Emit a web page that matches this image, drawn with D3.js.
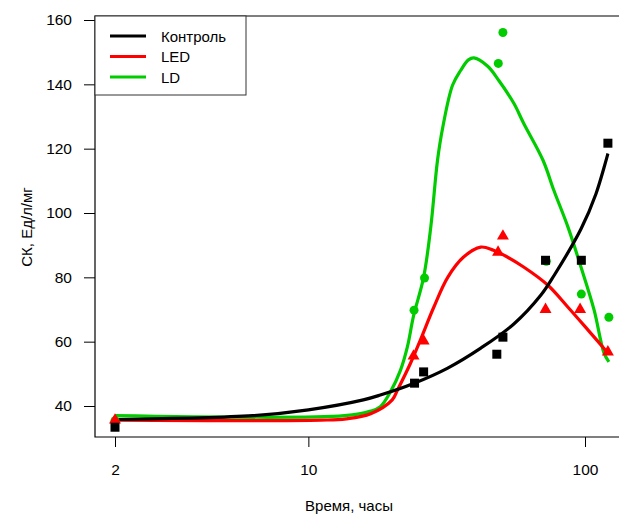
<!DOCTYPE html>
<html><head><meta charset="utf-8">
<script src="https://cdn.jsdelivr.net/npm/d3@7"></script>
<style>body{margin:0;background:#fff}svg{display:block}text{font-family:"Liberation Sans",Arial,sans-serif}</style>
</head><body>
<svg id="c" width="619" height="515"></svg>
<script>
// ---- data ----
const seriesNames = ["Контроль", "LED", "LD"];
const seriesColors = ["#000000", "#ff0000", "#00cc00"];
const xTicks = [2, 10, 100];
const yTicks = [40, 60, 80, 100, 120, 140, 160];

// observed points
const ctrlT = [2, 24.2, 26.1, 48, 50.5, 72, 97, 121];
const ctrlV = [33.4, 47.1, 50.6, 56.1, 61.4, 85.3, 85.3, 121.7];
const ledT  = [2, 24.0, 26.1, 48.5, 50.5, 72, 96, 121];
const ledV  = [35.6, 55.5, 60.2, 87.8, 92.8, 70, 70, 56.8];
const ldT   = [2, 24.1, 26.3, 48.6, 50.5, 72.5, 97, 122];
const ldV   = [35.4, 69.8, 79.8, 146.5, 156.1, 85, 74.8, 67.6];

// fitted curves
const ctrlFitT = [2, 6.3, 10, 15.8, 18.2, 24, 31.9, 42, 55.3, 69.3, 77.2, 96.7, 109.6, 121];
const ctrlFitV = [35.8, 37, 38.8, 41.9, 43.4, 47, 51.8, 58, 65.5, 74.5, 80.5, 95, 106, 118.5];
const ledFitT = [2, 11.1, 13.7, 16.8, 20.1, 21.0, 23.4, 25.4, 28.4, 31.9, 36.4, 42, 46.7, 50.9, 60, 73.3, 86.8, 102.6, 121];
const ledFitV = [35.6, 35.6, 36.0, 37.6, 41.9, 45, 53.3, 60.5, 70.7, 80, 86.3, 89.4, 88.4, 86.9, 83.2, 77.6, 70.7, 63.6, 56.5];
const ldFitT = [2, 13.5, 16.8, 18.2, 19.8, 21.5, 22.8, 24.0, 26.1, 27.7, 29.3, 30.6, 33.2, 35.5, 37.9, 39.7, 44.5, 48.8, 55.3, 60, 70.5, 77.2, 86.8, 96.7, 107.9, 117.1, 122];
const ldFitV = [37, 37, 38.4, 39.8, 44.4, 51, 58.4, 68, 80, 95.6, 116.4, 126.6, 139.7, 144.3, 147.6, 148.2, 145.6, 141.2, 134.1, 127.9, 116.4, 107, 95.6, 83.2, 69.8, 56.5, 53.7];

// ---- layout ----
const svg = d3.select("#c");
const L = 95, T = 16, R = 619, B = 437;
const x = d3.scaleLog().domain([2, 100]).range([115, 585]);
const y = d3.scaleLinear().domain([40, 160]).range([406, 20]);

// frame
svg.append("path").attr("d", `M${R},${T}H${L}V${B}H${R}`).attr("fill", "none").attr("stroke", "#000").attr("stroke-width", 1.2);

// axes
const ya = svg.append("g").attr("transform", `translate(${L},0)`)
  .call(d3.axisLeft(y).tickValues(yTicks).tickSize(11).tickPadding(12).tickFormat(d3.format("d")));
ya.select(".domain").remove();
ya.selectAll("text").attr("font-size", 15.5).attr("fill", "#000").attr("font-family", "Liberation Sans, Arial");
ya.selectAll("line").attr("stroke", "#000");

const xa = svg.append("g").attr("transform", `translate(0,${B})`)
  .call(d3.axisBottom(x).tickValues(xTicks).tickSize(10).tickPadding(17).tickFormat(d3.format("d")));
xa.select(".domain").remove();
xa.selectAll("text").attr("font-size", 15.5).attr("fill", "#000").attr("font-family", "Liberation Sans, Arial");
xa.selectAll("line").attr("stroke", "#000");

// axis titles
svg.append("text").attr("x", 349).attr("y", 511).attr("text-anchor", "middle").attr("font-size", 15).text("Время, часы");
svg.append("text").attr("transform", "translate(32,227) rotate(-90)").attr("text-anchor", "middle").attr("font-size", 15).text("СК, Ед/л/мг");

// curves
const line = d3.line().x(d => x(d[0])).y(d => y(d[1])).curve(d3.curveCatmullRom.alpha(0.5));
const fits = [[ctrlFitT, ctrlFitV], [ledFitT, ledFitV], [ldFitT, ldFitV]];
const drawOrder = [2, 1, 0];
drawOrder.forEach(i => {
  const pts = fits[i][0].map((t, k) => [t, fits[i][1][k]]);
  svg.append("path").datum(pts).attr("d", line).attr("fill", "none")
    .attr("stroke", seriesColors[i]).attr("stroke-width", 3.2).attr("stroke-linejoin", "round");
});

// points
const zip = (a, b) => a.map((t, k) => [t, b[k]]);
svg.append("g").selectAll("circle").data(zip(ldT, ldV)).join("circle")
  .attr("cx", d => x(d[0])).attr("cy", d => y(d[1])).attr("r", 4.5).attr("fill", seriesColors[2]);
const tri = d3.symbol().type(d3.symbolTriangle).size(62);
svg.append("g").selectAll("path").data(zip(ledT, ledV)).join("path")
  .attr("transform", d => `translate(${x(d[0])},${y(d[1])})`).attr("d", tri).attr("fill", seriesColors[1]);
svg.append("g").selectAll("rect").data(zip(ctrlT, ctrlV)).join("rect")
  .attr("x", d => x(d[0]) - 4.5).attr("y", d => y(d[1]) - 4.5).attr("width", 9).attr("height", 9).attr("fill", seriesColors[0]);

// legend
svg.append("rect").attr("x", L).attr("y", T).attr("width", 151).attr("height", 79)
  .attr("fill", "#fff").attr("stroke", "#333").attr("stroke-width", 1);
seriesNames.forEach((n, i) => {
  const yy = 36 + i * 20.5;
  svg.append("line").attr("x1", 110).attr("x2", 146).attr("y1", yy).attr("y2", yy)
    .attr("stroke", seriesColors[i]).attr("stroke-width", 3.2);
  svg.append("text").attr("x", 161).attr("y", yy + 5.5).attr("font-size", 15).text(n);
});
</script>
</body></html>
